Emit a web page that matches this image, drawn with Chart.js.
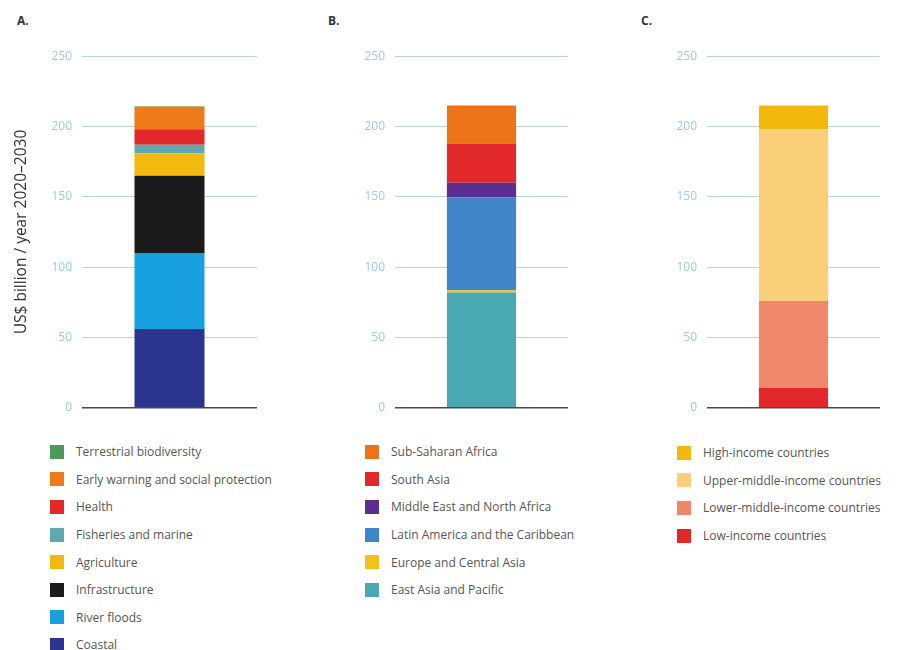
<!DOCTYPE html>
<html>
<head>
<meta charset="utf-8">
<script src="https://cdn.jsdelivr.net/npm/chart.js@4"></script>
<style>
  body { margin: 0; background: #fff; width: 899px; height: 650px; overflow: hidden; position: relative; font-family: "Open Sans", "Liberation Sans", Arial, sans-serif; }
  .panel-letter { position: absolute; top: 12px; font-size: 12px; font-weight: bold; color: #333; }
  canvas { position: absolute; }
  .legend { position: absolute; margin: 0; padding: 0; list-style: none; }
  .legend li { height: 27.6px; display: flex; align-items: center; font-size: 12px; color: #555; white-space: nowrap; }
  .legend .box { width: 14px; height: 14px; margin-right: 12px; flex: none; }
</style>
</head>
<body>

<div class="panel-letter" style="left:17px">A.</div>
<div class="panel-letter" style="left:328px">B.</div>
<div class="panel-letter" style="left:641px">C.</div>

<canvas id="chartA" width="262" height="386" style="left:0px;top:39px"></canvas>
<canvas id="chartB" width="270" height="386" style="left:300px;top:39px"></canvas>
<canvas id="chartC" width="272" height="386" style="left:612px;top:39px"></canvas>

<ul class="legend" id="legendA" style="left:50px;top:438px"></ul>
<ul class="legend" id="legendB" style="left:365px;top:438px"></ul>
<ul class="legend" id="legendC" style="left:677px;top:439px"></ul>

<script>
// Data (bottom of stack first)

var yTicks = [0, 50, 100, 150, 200, 250];

var sectorLabels = ['Coastal', 'River floods', 'Infrastructure', 'Agriculture', 'Fisheries and marine', 'Health', 'Early warning and social protection', 'Terrestrial biodiversity'];
var sectorValues = [56, 54, 55, 16, 6, 11, 16, 0.5];
var sectorColors = ['#2b3590', '#17a1e0', '#1b1b1b', '#f4b90e', '#5ea9ae', '#e3282b', '#ef7a1a', '#4c9a55'];

var regionLabels = ['East Asia and Pacific', 'Europe and Central Asia', 'Latin America and the Caribbean', 'Middle East and North Africa', 'South Asia', 'Sub-Saharan Africa'];
var regionValues = [82, 1.5, 66, 10.5, 28, 27];
var regionColors = ['#4aa8b3', '#f2c11a', '#3f86c9', '#5b2e91', '#e3282b', '#ee7419'];

var incomeLabels = ['Low-income countries', 'Lower-middle-income countries', 'Upper-middle-income countries', 'High-income countries'];
var incomeValues = [14, 62, 122, 17];
var incomeColors = ['#e3282b', '#f0866a', '#f9cf7a', '#f2b90c'];

Chart.defaults.font.family = '"Open Sans", "Liberation Sans", Arial, sans-serif';

// Charts

function makePanel(canvasId, legendId, labels, values, colors, axisWidth, padRight, showTitle) {
    var datasets = labels.map(function (name, i) {
        return {
            label: name,
            data: [values[i]],
            backgroundColor: colors[i],
            borderWidth: 0,
            barPercentage: 0.4,
            categoryPercentage: 1
        };
    });

    var chart = new Chart(document.getElementById(canvasId), {
        type: 'bar',
        data: { labels: [''], datasets: datasets },
        options: {
            responsive: false,
            animation: false,
            layout: { padding: { top: 0, bottom: 0, left: 0, right: padRight } },
            plugins: { legend: { display: false }, tooltip: { enabled: false } },
            scales: {
                x: { stacked: true, display: false },
                y: {
                    stacked: true,
                    min: 0,
                    max: 250,
                    afterBuildTicks: function (scale) {
                        scale.ticks = yTicks.map(function (v) { return { value: v }; });
                    },
                    afterFit: function (scale) { scale.width = axisWidth; },
                    border: { display: false },
                    grid: {
                        drawTicks: false,
                        color: function (ctx) { return ctx.tick && ctx.tick.value === 0 ? '#4a4a4a' : '#b7d4e4'; },
                        lineWidth: function (ctx) { return ctx.tick && ctx.tick.value === 0 ? 1.5 : 1; }
                    },
                    ticks: { color: '#9ccbe0', padding: 10, font: { size: 12 } },
                    title: {
                        display: showTitle,
                        text: 'US$ billion / year 2020\u20132030',
                        color: '#333',
                        font: { size: 15.5 },
                        padding: { top: 12, bottom: 0 }
                    }
                }
            }
        }
    });

    // html legend, top of stack first
    var ul = document.getElementById(legendId);
    chart.data.datasets.slice().reverse().forEach(function (ds) {
        var li = document.createElement('li');
        var box = document.createElement('span');
        box.className = 'box';
        box.style.background = ds.backgroundColor;
        li.appendChild(box);
        li.appendChild(document.createTextNode(ds.label));
        ul.appendChild(li);
    });
    return chart;
}

makePanel('chartA', 'legendA', sectorLabels, sectorValues, sectorColors, 82, 5, true);
makePanel('chartB', 'legendB', regionLabels, regionValues, regionColors, 95, 2, false);
makePanel('chartC', 'legendC', incomeLabels, incomeValues, incomeColors, 95, 4, false);
</script>
</body>
</html>
